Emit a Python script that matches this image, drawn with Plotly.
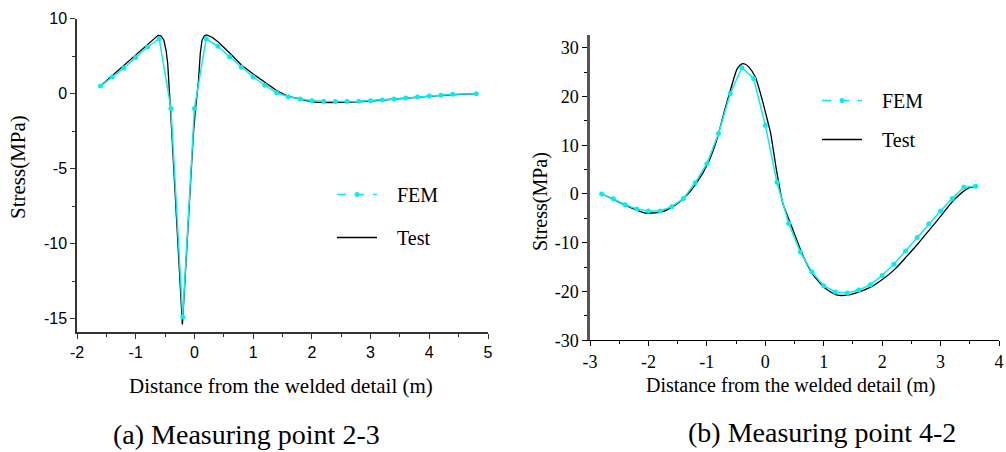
import plotly.graph_objects as go

W, H = 1006, 452

# ---------------- (a) Measuring point 2-3 ----------------
a_fem_x = [-1.6, -1.4, -1.2, -1.0, -0.8, -0.6, -0.4, -0.2, 0.0, 0.2, 0.4, 0.6, 0.8, 1.0,
           1.2, 1.4, 1.6, 1.8, 2.0, 2.2, 2.4, 2.6, 2.8, 3.0, 3.2, 3.4, 3.6, 3.8, 4.0,
           4.2, 4.4, 4.8]
a_fem_y = [1.0, 2.2, 3.4, 4.8, 6.2, 7.3, -1.0, -14.9, -1.0, 7.3, 6.3, 4.9, 3.5, 2.2,
           1.1, 0.1, -0.22, -0.37, -0.48, -0.52, -0.54, -0.54, -0.52, -0.48, -0.43, -0.37,
           -0.3, -0.23, -0.17, -0.12, -0.05, -0.01]

a_test_x = [-1.6, -1.4, -1.2, -1.0, -0.8, -0.7, -0.62, -0.57, -0.52, -0.48, -0.455, -0.41,
            -0.36, -0.30, -0.24, -0.205, -0.16, -0.11, -0.07, -0.02, 0.02, 0.07, 0.10,
            0.13, 0.17, 0.21, 0.30, 0.40, 0.60, 0.80, 1.0, 1.2, 1.4, 1.6, 1.8, 2.0, 2.2,
            2.4, 2.6, 3.0, 3.4, 3.8, 4.2, 4.8]
a_test_y = [1.0, 2.4, 3.8, 5.2, 6.6, 7.3, 7.75, 7.7, 7.1, 5.6, 4.0, -0.9,
            -4.5, -8.0, -12.4, -15.4, -12.4, -8.8, -5.8, -2.8, -1.0, 1.8, 5.4,
            7.1, 7.7, 7.8, 7.5, 6.9, 5.4, 3.8, 2.6, 1.45, 0.4, -0.2, -0.4, -0.55, -0.61,
            -0.61, -0.59, -0.5, -0.39, -0.25, -0.12, -0.01]

a_xtick_vals = [-2, -1, 0, 1, 2, 3, 4, 5]
a_xtick_text = ["-2", "-1", "0", "1", "2", "3", "4", "5"]
a_ytick_vals = [10, 0, -5, -10, -15]
a_ytick_text = ["10", "0", "-5", "-10", "-15"]
a_yminor_vals = [5, -2.5, -7.5, -12.5]

# ---------------- (b) Measuring point 4-2 ----------------
b_fem_x = [-2.8, -2.6, -2.4, -2.2, -2.0, -1.8, -1.6, -1.4, -1.2, -1.0, -0.8, -0.6, -0.4,
           -0.2, 0.0, 0.2, 0.4, 0.6, 0.8, 1.0, 1.2, 1.4, 1.6, 1.8, 2.0, 2.2, 2.4, 2.6,
           2.8, 3.0, 3.2, 3.4, 3.6]
b_fem_y = [0.0, -1.0, -2.2, -3.1, -3.5, -3.5, -2.6, -0.9, 2.3, 6.2, 12.4, 20.6, 25.9,
           23.7, 14.1, 2.4, -6.0, -11.9, -16.0, -18.8, -20.1, -20.3, -19.7, -18.6, -16.7,
           -14.4, -11.7, -8.9, -6.1, -3.5, -0.9, 1.4, 1.6]

b_test_x = [-2.8, -2.58, -2.38, -2.18, -2.05, -1.95, -1.78, -1.58, -1.38, -1.18, -0.98,
            -0.83, -0.70, -0.58, -0.48, -0.40, -0.34, -0.28, -0.17, -0.05, 0.05, 0.09,
            0.19, 0.30, 0.42, 0.64, 0.82, 1.02, 1.22, 1.42, 1.62, 1.82, 2.02, 2.22, 2.42,
            2.62, 2.82, 3.02, 3.20, 3.42, 3.52, 3.62]
b_test_y = [0.0, -1.2, -2.4, -3.4, -3.9, -3.9, -3.7, -2.6, -0.7, 2.2, 6.3,
            11.1, 17.0, 22.0, 25.7, 26.7, 26.6, 26.0, 24.0, 19.2, 14.5, 12.6,
            5.0, -1.9, -5.7, -12.5, -16.6, -19.3, -20.7, -20.7, -20.0, -19.0, -17.4, -15.4,
            -12.8, -10.1, -7.2, -4.3, -1.6, 0.8, 1.4, 1.4]

b_xtick_vals = [-3, -2, -1, 0, 1, 2, 3, 4]
b_xtick_text = ["-3", "-2", "-1", "0", "1", "2", "3", "4"]
b_ytick_vals = [30, 20, 10, 0, -10, -20, -30]
b_ytick_text = ["30", "20", "10", "0", "-10", "-20", "-30"]

fem_name = "FEM"
test_name = "Test"
a_caption = "(a) Measuring point 2-3"
b_caption = "(b) Measuring point 4-2"
x_title = "Distance from the welded detail (m)"
y_title = "Stress(MPa)"


def a_disp(v):
    # the left panel's vertical axis is compressed by half above zero
    return v / 2 if v > 0 else v


CYAN = "#00f0f0"
SERIF = "Liberation Serif, Times New Roman, serif"
SANS = "Liberation Sans, Arial, sans-serif"

fig = go.Figure()

# left panel
fig.add_trace(go.Scatter(x=a_test_x, y=[a_disp(v) for v in a_test_y], mode="lines",
                         line=dict(color="black", width=1.3), xaxis="x", yaxis="y",
                         showlegend=False, hoverinfo="skip"))
fig.add_trace(go.Scatter(x=a_fem_x, y=[a_disp(v) for v in a_fem_y], mode="lines+markers",
                         line=dict(color=CYAN, width=1.5), marker=dict(color=CYAN, size=5),
                         xaxis="x", yaxis="y", showlegend=False))
# right panel
fig.add_trace(go.Scatter(x=b_test_x, y=b_test_y, mode="lines", line_shape="spline",
                         line=dict(color="black", width=1.3, smoothing=0.6),
                         xaxis="x2", yaxis="y2", showlegend=False))
fig.add_trace(go.Scatter(x=b_fem_x, y=b_fem_y, mode="lines+markers",
                         line=dict(color=CYAN, width=1.5), marker=dict(color=CYAN, size=5),
                         xaxis="x2", yaxis="y2", showlegend=False))

# legend entries
pad = "\u00a0\u00a0\u00a0"
for lg in ["legend", "legend2"]:
    fig.add_trace(go.Scatter(x=[None], y=[None], mode="lines+markers", name=pad + fem_name,
                             line=dict(color=CYAN, width=1.5, dash="dash"),
                             marker=dict(color=CYAN, size=5), legend=lg,
                             legendgroup=lg + "f", xaxis="x2" if lg == "legend2" else "x",
                             yaxis="y2" if lg == "legend2" else "y"))
    fig.add_trace(go.Scatter(x=[None], y=[None], mode="lines", name=pad + test_name,
                             line=dict(color="black", width=1.3), legend=lg,
                             legendgroup=lg + "t", xaxis="x2" if lg == "legend2" else "x",
                             yaxis="y2" if lg == "legend2" else "y"))


def px(x):
    return x / W


def py(y):
    return 1 - y / H


axis_common = dict(showgrid=False, zeroline=False, showline=True, ticks="outside",
                   automargin=False)

fig.update_layout(
    width=W, height=H,
    margin=dict(l=0, r=0, t=0, b=0),
    paper_bgcolor="white", plot_bgcolor="white",
    xaxis=dict(domain=[px(77), px(488)], range=[-2, 5],
               tickvals=a_xtick_vals, ticktext=a_xtick_text,
               linecolor="#333", linewidth=1.5, ticklen=5, tickwidth=1.2, tickcolor="#333",
               tickfont=dict(family=SANS, size=16, color="black"), anchor="y",
               minor=dict(dtick=0.5, tick0=0, ticklen=3, tickwidth=1.2, tickcolor="#333",
                          ticks="outside"),
               **axis_common),
    yaxis=dict(domain=[py(332), py(18.5)], range=[-15.9, 5],
               tickvals=[a_disp(v) for v in a_ytick_vals], ticktext=a_ytick_text,
               linecolor="#333", linewidth=1.5, ticklen=5, tickwidth=1.2, tickcolor="#333",
               tickfont=dict(family=SANS, size=16, color="black"), anchor="x",
               minor=dict(tickvals=[a_disp(v) for v in a_yminor_vals], ticklen=3,
                          tickwidth=1.2, tickcolor="#333", ticks="outside"),
               **axis_common),
    xaxis2=dict(domain=[px(590), px(999)], range=[-3, 4],
                tickvals=b_xtick_vals, ticktext=b_xtick_text,
                linecolor="black", linewidth=1.3, ticklen=5, tickwidth=1.2, tickcolor="black",
                tickfont=dict(family=SERIF, size=18, color="black"), anchor="y2",
                minor=dict(dtick=0.5, tick0=0, ticklen=3, tickwidth=1.2, tickcolor="black",
                           ticks="outside"),
                **axis_common),
    yaxis2=dict(domain=[py(340.3), py(35)], range=[-30, 32.6],
                tickvals=b_ytick_vals, ticktext=b_ytick_text,
                linecolor="#555", linewidth=2.5, ticklen=5, tickwidth=1.2, tickcolor="black",
                tickfont=dict(family=SERIF, size=18, color="black"), anchor="x2",
                minor=dict(dtick=5, tick0=0, ticklen=3, tickwidth=1.2, tickcolor="black",
                           ticks="outside"),
                **axis_common),
    legend=dict(x=px(332), y=py(175), xanchor="left", yanchor="top",
                font=dict(family=SERIF, size=20, color="black"), bgcolor="rgba(0,0,0,0)",
                traceorder="grouped", tracegroupgap=14, itemwidth=40),
    legend2=dict(x=px(817), y=py(81), xanchor="left", yanchor="top",
                 font=dict(family=SERIF, size=20, color="black"), bgcolor="rgba(0,0,0,0)",
                 traceorder="grouped", tracegroupgap=10, itemwidth=40),
    annotations=[
        dict(text=x_title, x=px(281), y=py(386), xref="paper", yref="paper",
             showarrow=False, xanchor="center", yanchor="middle",
             font=dict(family=SERIF, size=21, color="black")),
        dict(text=y_title, x=px(18), y=py(167), xref="paper", yref="paper",
             showarrow=False, xanchor="center", yanchor="middle", textangle=-90,
             font=dict(family=SERIF, size=21, color="black")),
        dict(text=a_caption, x=px(246), y=py(434), xref="paper", yref="paper",
             showarrow=False, xanchor="center", yanchor="middle",
             font=dict(family=SERIF, size=28, color="black")),
        dict(text=x_title, x=px(790), y=py(385), xref="paper", yref="paper",
             showarrow=False, xanchor="center", yanchor="middle",
             font=dict(family=SERIF, size=20, color="black")),
        dict(text=y_title, x=px(541), y=py(202), xref="paper", yref="paper",
             showarrow=False, xanchor="center", yanchor="middle", textangle=-90,
             font=dict(family=SERIF, size=20, color="black")),
        dict(text=b_caption, x=px(822), y=py(432), xref="paper", yref="paper",
             showarrow=False, xanchor="center", yanchor="middle",
             font=dict(family=SERIF, size=28, color="black")),
    ],
)

fig.write_html("out.html", config={"displayModeBar": False},
               post_script="document.body.style.margin='0';document.body.style.overflow='hidden';")
